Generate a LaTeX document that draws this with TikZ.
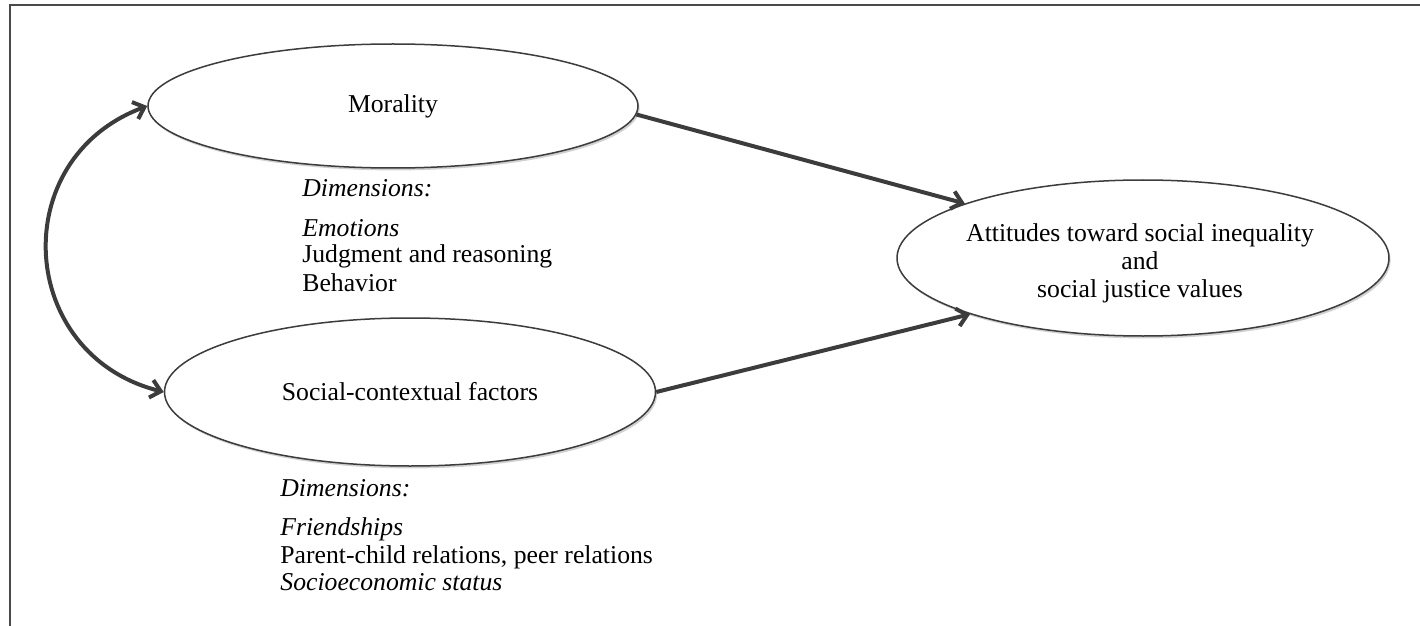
\documentclass[tikz,border=0pt]{standalone}
\usepackage{fontspec}
\setmainfont{Liberation Serif}
\usetikzlibrary{arrows.meta,shapes.geometric,shadows}
\definecolor{linegray}{HTML}{3C3C3C}
\definecolor{framegray}{HTML}{4A4A4A}
\begin{document}
\begin{tikzpicture}[x=0.5pt,y=-0.5pt,
  basefont/.style={font=\fontsize{12.85}{14}\selectfont},
  oval/.style={ellipse, draw=linegray, line width=0.75pt, fill=white, inner sep=0pt, basefont,
    drop shadow={shadow xshift=0.8pt, shadow yshift=-1.2pt, opacity=0.18, fill=black}},
  conn/.style={draw=linegray, line width=2pt, -{Straight Barb[length=5pt,width=9pt]}},
  biconn/.style={draw=linegray, line width=2pt, {Straight Barb[length=5pt,width=9pt]}-{Straight Barb[length=5pt,width=9pt]}},
  lbl/.style={anchor=base west, inner sep=0pt, font=\fontsize{12.85}{14}\selectfont},
  itlbl/.style={anchor=base west, inner sep=0pt, font=\fontsize{12.85}{14}\selectfont\itshape}]

\useasboundingbox (0,0) rectangle (1420,626);
\fill[white] (0,0) rectangle (1420,626);
\draw[framegray, line width=1pt] (10,626) -- (10,5) -- (1420,5);

\node[oval, minimum width=245pt, minimum height=62pt] (mor) at (393,106) {Morality};
\node[oval, minimum width=245.5pt, minimum height=74pt] (soc) at (410,392) {Social-contextual factors};
\node[oval, minimum width=246pt, minimum height=78pt] (att) at (1143,258) {};
\node[basefont, align=center, inner sep=0pt] (atttext) at (1140,263)
  {Attitudes toward social inequality\\and\\social justice values};

\draw[conn] (mor.-2) -- (att.163);
\draw[conn] (soc.east) -- (att.198);
\draw[biconn] (mor.west) .. controls +(-142,53) and +(-147,-37) .. (soc.west);

\node[itlbl] (md) at (302,197) {Dimensions:};
\node[itlbl] (m1) at (302,236) {Emotions};
\node[lbl] (m2) at (302,263) {Judgment and reasoning};
\node[lbl] (m3) at (302,291) {Behavior};

\node[itlbl] (sd) at (280,496) {Dimensions:};
\node[itlbl] (s1) at (280,535) {Friendships};
\node[lbl] (s2) at (280,563) {Parent-child relations, peer relations};
\node[itlbl] (s3) at (280,590) {Socioeconomic status};
\end{tikzpicture}
\end{document}
